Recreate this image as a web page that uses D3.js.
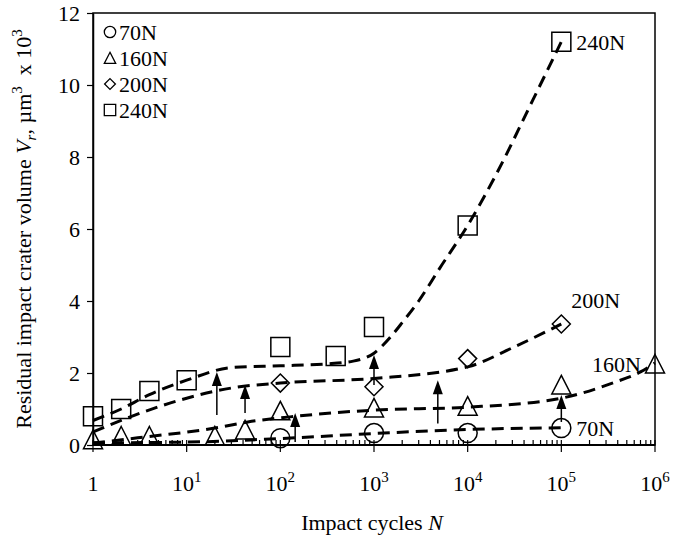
<!DOCTYPE html>
<html>
  <head>
    <meta charset="utf-8">
    <title>Residual impact crater volume</title>
    <script src="https://cdn.jsdelivr.net/npm/d3@7"></script>
    <style>
      body { margin: 0; background: #fff; }
      svg text { font-family: "Liberation Serif", "Times New Roman", serif; fill: #000; }
    </style>
  </head>

  <body>
    <svg id="chart" width="684" height="538"></svg>

    <script>
      // measured points (N, volume x 10^3 um^3)
      series = ["70N", "160N", "200N", "240N"];
      symbols = ["circle", "triangle", "diamond", "square"];

      n70 = [100, 1000, 10000, 100000];
      v70 = [0.19, 0.33, 0.33, 0.47];
      n160 = [1, 2, 4, 20, 42, 100, 1000, 10000, 100000, 1000000];
      v160 = [0.15, 0.25, 0.25, 0.25, 0.42, 0.95, 1.03, 1.08, 1.67, 2.25];
      n200 = [100, 1000, 10000, 100000];
      v200 = [1.72, 1.62, 2.4, 3.36];
      n240 = [1, 2, 4, 10, 100, 390, 1000, 10000, 100000];
      v240 = [0.8, 1.0, 1.5, 1.8, 2.72, 2.47, 3.28, 6.1, 11.2];

      // dashed trend lines
      fitN70 = [1, 10, 100, 1000, 10000, 100000];
      fitV70 = [0.06, 0.08, 0.18, 0.32, 0.43, 0.48];
      fitN160 = [1, 3, 20, 45, 150, 1000, 10000, 100000, 350000, 700000, 1000000];
      fitV160 = [0.05, 0.2, 0.47, 0.64, 0.8, 0.97, 1.05, 1.3, 1.72, 2.03, 2.28];
      fitN200 = [1, 2.8, 10, 33, 100, 1000, 10000, 30000, 100000];
      fitV200 = [0.36, 0.83, 1.3, 1.6, 1.72, 1.85, 2.17, 2.7, 3.36];
      fitN240 = [1, 2, 4, 10, 30, 100, 300, 600, 1000, 1500, 2000, 3000, 5000, 10000, 20000, 50000, 100000];
      fitV240 = [0.68, 1.0, 1.4, 1.8, 2.15, 2.2, 2.25, 2.33, 2.55, 3.0, 3.4, 4.0, 4.9, 6.1, 7.5, 9.6, 11.2];

      // arrows
      arrowN = [21, 42, 144, 1000, 4800, 100000];
      arrowFrom = [0.83, 0.89, 0.08, 1.67, 0.6, 0.64];
      arrowTo = [2.03, 1.67, 0.89, 2.5, 1.8, 1.39];

      // end labels
      labelText = ["240N", "200N", "160N", "70N"];
      labelN = [100000, 100000, 1000000, 100000];
      labelV = [11.2, 3.36, 2.25, 0.47];

      yTicks = [0, 2, 4, 6, 8, 10, 12];
      xTicks = [1, 10, 100, 1000, 10000, 100000, 1000000];
      xTickLabels = ["1", "10|1", "10|2", "10|3", "10|4", "10|5", "10|6"];

      margin = {top: 13, right: 29, bottom: 93, left: 93};
      width = 684;
      height = 538;
      fontSize = "22px";
      supSize = "15px";

      svg = d3.select("#chart");

      x = d3.scaleLog()
          .domain([1, 1e6])
          .range([margin.left, width - margin.right]);

      y = d3.scaleLinear()
          .domain([0, 12])
          .range([height - margin.bottom, margin.top]);

      // frame
      svg.append("rect")
          .attr("x", x(1))
          .attr("y", y(12))
          .attr("width", x(1e6) - x(1))
          .attr("height", y(0) - y(12))
          .attr("fill", "none")
          .attr("stroke", "#000")
          .attr("stroke-width", 1.5);

      // y axis
      yAxis = d3.axisLeft(y).tickValues(yTicks).tickSize(6).tickSizeOuter(0);
      yG = svg.append("g")
          .attr("transform", "translate(" + x(1) + ",0)")
          .call(yAxis);
      yG.select(".domain").attr("stroke-width", 1.5);
      yG.selectAll(".tick line").attr("stroke-width", 1.2);
      yG.selectAll(".tick text")
          .attr("x", -13)
          .style("font-family", "Liberation Serif")
          .style("font-size", fontSize);

      // x axis: major ticks cross the line, minor ticks point up
      minor = [];
      for (k = 0; k < 6; k++) {
        for (m = 2; m < 10; m++) minor.push(m * Math.pow(10, k));
      }
      xG = svg.append("g").attr("transform", "translate(0," + y(0) + ")");
      xG.append("line")
          .attr("x1", x(1)).attr("x2", x(1e6))
          .attr("stroke", "#000").attr("stroke-width", 2);
      xG.selectAll(".minor").data(minor).join("line")
          .attr("class", "minor")
          .attr("x1", d => x(d)).attr("x2", d => x(d))
          .attr("y1", 0).attr("y2", -5)
          .attr("stroke", "#000").attr("stroke-width", 1.2);
      xG.selectAll(".major").data(xTicks).join("line")
          .attr("class", "major")
          .attr("x1", d => x(d)).attr("x2", d => x(d))
          .attr("y1", -5).attr("y2", 7)
          .attr("stroke", "#000").attr("stroke-width", 1.2);

      labels = xG.selectAll(".xlab").data(xTicks).join("text")
          .attr("class", "xlab")
          .attr("x", d => x(d))
          .attr("y", 46)
          .attr("text-anchor", "middle")
          .style("font-size", fontSize);
      labels.each(function(d, i) {
        parts = xTickLabels[i].split("|");
        t = d3.select(this);
        t.append("tspan").text(parts[0]);
        if (parts[1]) {
          t.append("tspan").attr("dy", -9).style("font-size", supSize).text(parts[1]);
        }
      });

      // axis titles
      xt = svg.append("text")
          .attr("x", 372)
          .attr("y", 530)
          .attr("text-anchor", "middle")
          .style("font-size", fontSize);
      xt.append("tspan").text("Impact cycles ");
      xt.append("tspan").style("font-style", "italic").text("N");

      yt = svg.append("text")
          .attr("transform", "translate(31," + 229 + ") rotate(-90)")
          .attr("text-anchor", "middle")
          .style("font-size", fontSize);
      yt.append("tspan").text("Residual impact crater volume ");
      yt.append("tspan").style("font-style", "italic").text("V");
      yt.append("tspan").attr("dy", 5).style("font-style", "italic").style("font-size", supSize).text("r");
      yt.append("tspan").attr("dy", -5).text(", \u00b5m");
      yt.append("tspan").attr("dy", -9).style("font-size", supSize).text("3");
      yt.append("tspan").attr("dy", 9).text("\u2002x 10");
      yt.append("tspan").attr("dy", -9).style("font-size", supSize).text("3");

      // dashed trend lines
      fits = [[fitN70, fitV70], [fitN160, fitV160], [fitN200, fitV200], [fitN240, fitV240]];
      line = d3.line()
          .x(d => x(d[0]))
          .y(d => y(d[1]))
          .curve(d3.curveMonotoneX);
      fits.forEach(f => {
        svg.append("path")
            .attr("d", line(f[0].map((n, i) => [n, f[1][i]])))
            .attr("fill", "none")
            .attr("stroke", "#000")
            .attr("stroke-width", 3)
            .attr("stroke-dasharray", "12,7");
      });

      // arrows
      svg.selectAll(".arrow").data(arrowN).join("line")
          .attr("class", "arrow")
          .attr("x1", d => x(d)).attr("x2", d => x(d))
          .attr("y1", (d, i) => y(arrowFrom[i]))
          .attr("y2", (d, i) => y(arrowTo[i]) + 10)
          .attr("stroke", "#000").attr("stroke-width", 1.5);
      svg.selectAll(".head").data(arrowN).join("path")
          .attr("class", "head")
          .attr("d", (d, i) => {
            px = x(d); py = y(arrowTo[i]);
            return "M" + px + "," + py + "L" + (px - 5) + "," + (py + 14) + "L" + (px + 5) + "," + (py + 14) + "Z";
          })
          .attr("fill", "#000");

      // markers
      function shape(name, scale) {
        s = 9.5 * scale;
        if (name === "diamond") {
          s = 9 * scale;
          return "M0," + (-s) + "L" + s + ",0L0," + s + "L" + (-s) + ",0Z";
        }
        if (name === "triangle") {
          return "M0," + (-s) + "L" + s + "," + (s * 0.95) + "L" + (-s) + "," + (s * 0.95) + "Z";
        }
        if (name === "square") {
          return "M" + (-s) + "," + (-s) + "h" + (2 * s) + "v" + (2 * s) + "h" + (-2 * s) + "Z";
        }
        return d3.symbol(d3.symbolCircle, Math.PI * s * s)();
      }

      points = [[n70, v70], [n160, v160], [n200, v200], [n240, v240]];
      points.forEach((p, si) => {
        svg.selectAll(".pt" + si).data(p[0]).join("path")
            .attr("class", "pt" + si)
            .attr("transform", (d, i) => "translate(" + x(d) + "," + y(p[1][i]) + ")")
            .attr("d", shape(symbols[si], 1))
            .attr("fill", "none")
            .attr("stroke", "#000")
            .attr("stroke-width", 1.5);
      });

      // end labels
      svg.selectAll(".endlab").data(labelText).join("text")
          .attr("class", "endlab")
          .attr("x", (d, i) => x(labelN[i]) + (d === "160N" ? -14 : d === "200N" ? 10 : 15))
          .attr("y", (d, i) => y(labelV[i]) + (d === "200N" ? -16 : 8))
          .attr("text-anchor", d => d === "160N" ? "end" : "start")
          .style("font-size", fontSize)
          .text(d => d);

      // legend
      legendY = [32, 58, 84, 110];
      legend = svg.selectAll(".leg").data(series).join("g")
          .attr("class", "leg")
          .attr("transform", (d, i) => "translate(110," + legendY[i] + ")");
      legend.append("path")
          .attr("d", (d, i) => shape(symbols[i], 0.6))
          .attr("fill", "none")
          .attr("stroke", "#000")
          .attr("stroke-width", 1.3);
      legend.append("text")
          .attr("x", 9)
          .attr("y", 8)
          .style("font-size", fontSize)
          .text(d => d);
    </script>
  </body>
</html>
